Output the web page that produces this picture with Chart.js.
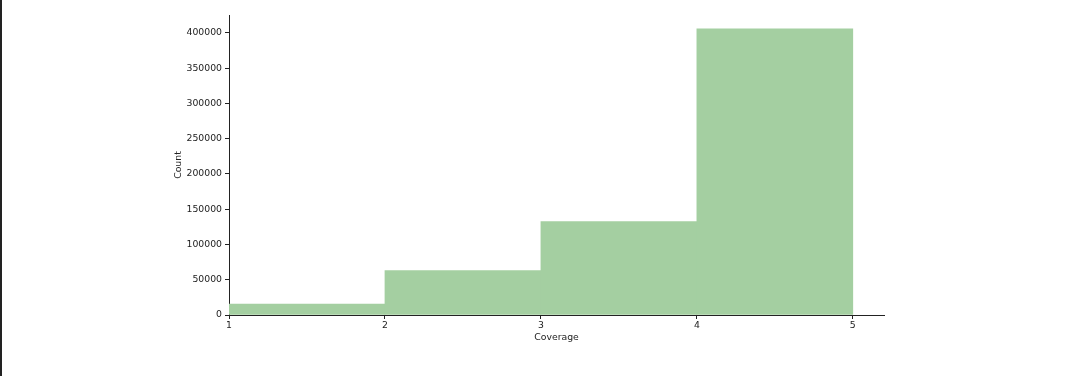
<!DOCTYPE html>
<html>
<head>
<meta charset="utf-8">
<script src="https://cdn.jsdelivr.net/npm/chart.js@4"></script>
<style>
  html, body { margin: 0; padding: 0; background: #fff; }
  #wrap { position: relative; width: 1080px; height: 376px; }
  #edge { position: absolute; left: 0; top: 0; width: 2px; height: 376px; background: #222; }
</style>
</head>
<body>
<div id="wrap">
  <canvas id="histChart" width="1080" height="376"></canvas>
  <div id="edge"></div>
</div>
<script>
// histogram bins (left edges) and counts
const binStarts = [1, 2, 3, 4];
const counts = [15500, 63000, 132500, 405800];
const xTicks = [1, 2, 3, 4, 5];
const yTicks = [0, 50000, 100000, 150000, 200000, 250000, 300000, 350000, 400000];

const tickFont = { family: 'DejaVu Sans', size: 9.3 };

let ctx = document.getElementById('histChart');
let histChart = new Chart(ctx, {
    type: 'bar',
    data: {
        datasets: [{
            label: 'Count',
            data: binStarts.map((b, i) => ({ x: b + 0.5, y: counts[i] })),
            backgroundColor: '#a4cfa1',
            borderWidth: 0,
            barPercentage: 1,
            categoryPercentage: 1
        }]
    },
    options: {
        responsive: false,
        animation: false,
        layout: { padding: { left: 172, right: 196, top: 15, bottom: 32 } },
        plugins: {
            legend: { display: false },
            tooltip: { enabled: false }
        },
        scales: {
            x: {
                type: 'linear',
                min: 1,
                max: 5.2,
                offset: false,
                afterBuildTicks: scale => { scale.ticks = xTicks.map(v => ({ value: v })); },
                afterFit: scale => { scale.height = 29; },
                grid: { offset: false, drawOnChartArea: false, tickLength: 4, color: '#222' },
                border: { color: '#222', width: 1 },
                ticks: { font: tickFont, color: '#222', padding: 1, maxRotation: 0 },
                title: { display: true, text: 'Coverage', font: tickFont, color: '#222', padding: { top: 0, bottom: 1 } }
            },
            y: {
                min: 0,
                max: 425500,
                afterBuildTicks: scale => { scale.ticks = yTicks.map(v => ({ value: v })); },
                afterFit: scale => { scale.width = 57; },
                grid: { drawOnChartArea: false, tickLength: 4, color: '#222' },
                border: { color: '#222', width: 1 },
                ticks: { font: tickFont, color: '#222', padding: 3, callback: v => String(v) },
                title: { display: true, text: 'Count', font: tickFont, color: '#222', padding: { top: 1.5, bottom: 0 } }
            }
        }
    }
});
</script>
</body>
</html>
